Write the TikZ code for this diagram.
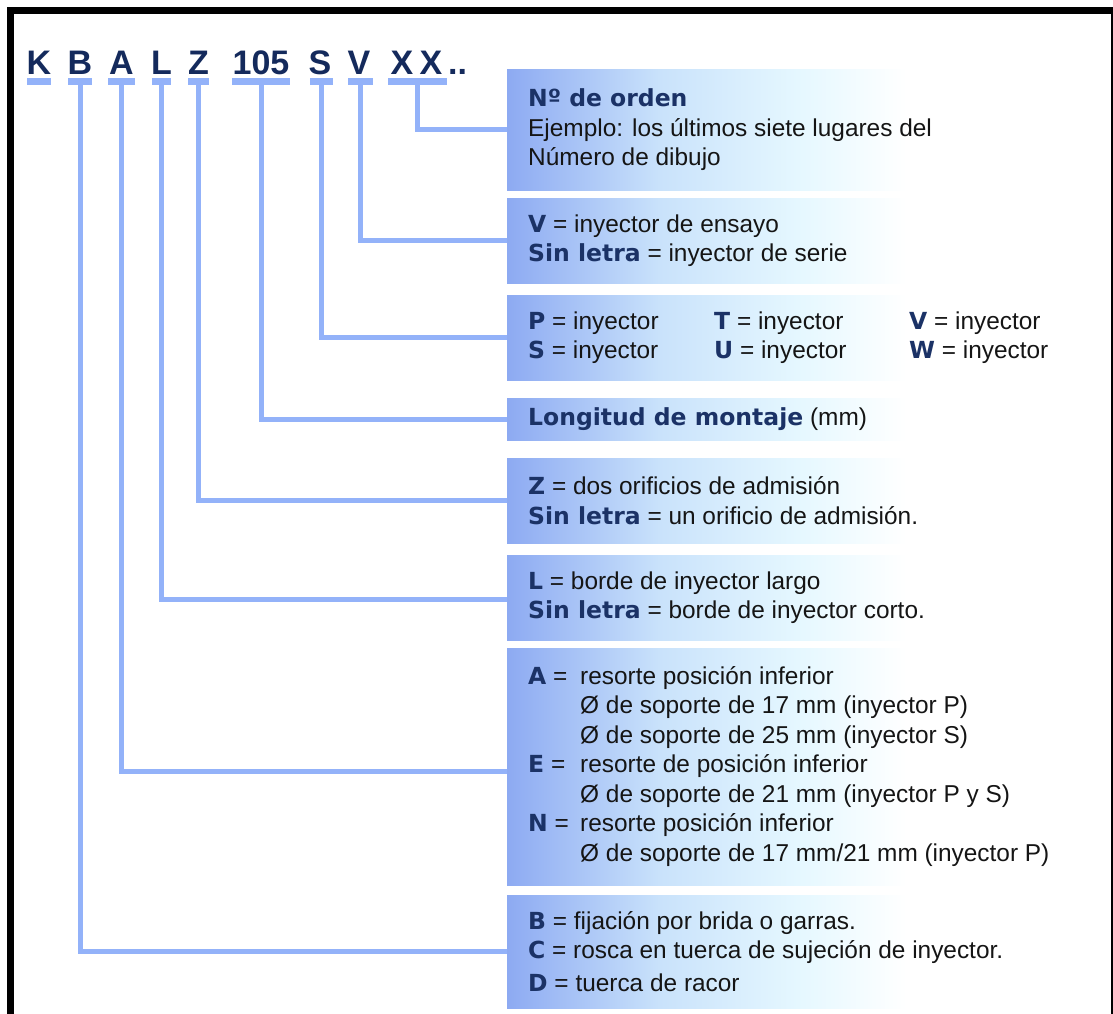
\documentclass[tikz,border=0pt]{standalone}
\usepackage{fontspec}
\setmainfont{Liberation Sans}
\newfontfamily\heavyfont{DejaVu Sans}
\usetikzlibrary{calc}

\definecolor{navy}{HTML}{1B3266}
\definecolor{titlenavy}{HTML}{142A5C}
\definecolor{linkblue}{HTML}{93B2F9}
\definecolor{fadeA}{HTML}{8DAAF2}
\definecolor{fadeB}{HTML}{C9E2FB}
\definecolor{fadeC}{HTML}{E6F8FF}
\definecolor{bodytext}{HTML}{151515}

% blue-to-white fade used behind every legend box
\pgfdeclarehorizontalshading{boxfade}{100bp}{color(0bp)=(fadeA); color(25bp)=(fadeA); color(44bp)=(fadeB); color(62bp)=(fadeC); color(75bp)=(white); color(100bp)=(white)}

% heavy keyword inside the legend text
\newcommand{\kw}[1]{{\heavyfont\bfseries\fontsize{23.5}{29.5}\selectfont\color{navy}#1}}

\tikzset{
  codebox/.style={shade, shading=boxfade, anchor=north west, minimum width=400pt,
                  inner sep=0pt, outer sep=0pt},
  desc/.style={anchor=west, align=left, inner sep=0pt, text=bodytext,
               font=\fontsize{24.4}{29.5}\selectfont},
  codechar/.style={anchor=base, inner sep=0pt, text=titlenavy,
                   font=\fontsize{34}{34}\selectfont\bfseries},
  ubar/.style={fill=linkblue, inner sep=0pt, outer sep=0pt, minimum height=7pt, anchor=north},
  link/.style={draw=linkblue, line width=5pt}
}

\begin{document}
\begin{tikzpicture}[x=1pt, y=-1pt]
\useasboundingbox (0,0) rectangle (1113,1014);
\fill[white] (0,0) rectangle (1113,1014);

% outer frame
\draw[line width=7pt] (10.5,1040) -- (10.5,10.5) -- (1114.2,10.5) -- (1114.2,1040);

% type code characters
\node[codechar] (tK)   at (39,75)  {K};
\node[codechar] (tB)   at (80,75)  {B};
\node[codechar] (tA)   at (121.5,75) {A};
\node[codechar] (tL)   at (161.5,75) {L};
\node[codechar] (tZ)   at (198.5,75) {Z};
\node[codechar] (t105) at (261,75) {105};
\node[codechar] (tS)   at (320,75) {S};
\node[codechar] (tV)   at (359,75) {V};
\node[codechar] (tX1)  at (402,75) {X};
\node[codechar] (tX2)  at (431,75) {X};
\node[codechar, anchor=base west] (tdots) at (448,75) {..};

% underline bars
\node[ubar, minimum width=24pt] (uK)   at (39,78)    {};
\node[ubar, minimum width=24pt] (uB)   at (80,78)    {};
\node[ubar, minimum width=27pt] (uA)   at (121.5,78) {};
\node[ubar, minimum width=19pt] (uL)   at (161.5,78) {};
\node[ubar, minimum width=21pt] (uZ)   at (198.5,78) {};
\node[ubar, minimum width=58pt] (u105) at (261,78)   {};
\node[ubar, minimum width=23pt] (uS)   at (321.5,78) {};
\node[ubar, minimum width=25pt] (uV)   at (360.5,78) {};
\node[ubar, minimum width=59pt] (uX)   at (417.5,78) {};

% legend boxes
\node[codebox, minimum height=120pt] (bX)   at (507,70)  {};
\node[codebox, minimum height=85pt]  (bV)   at (507,198) {};
\node[codebox, minimum height=85pt]  (bS)   at (507,295) {};
\node[codebox, minimum height=42pt]  (b105) at (507,398) {};
\node[codebox, minimum height=85pt]  (bZ)   at (507,458) {};
\node[codebox, minimum height=85pt]  (bL)   at (507,555) {};
\node[codebox, minimum height=237pt] (bA)   at (507,648) {};
\node[codebox, minimum height=113pt] (bB)   at (507,895) {};

% connectors
\draw[link] (uX.center)   |- (bX.west);
\draw[link] (uV.center)   |- (bV.west);
\draw[link] (uS.center)   |- (bS.west);
\draw[link] (u105.center) |- (b105.west);
\draw[link] (uZ.center)   |- (bZ.west);
\draw[link] (uL.center)   |- ([yshift=-2pt]bL.west);
\draw[link] (uA.center)   |- ([yshift=-5pt]bA.west);
\draw[link] (uB.center)   |- (bB.west);

% legend texts
\node[desc] (dX) at ([xshift=21pt]bX.west)
  {\kw{Nº de orden}\\
   Ejemplo: los últimos siete lugares del\\
   Número de dibujo};

\node[desc] (dV) at ([xshift=21pt]bV.west)
  {\kw{V} = inyector de ensayo\\
   \kw{Sin letra} = inyector de serie};

\node[desc] (dS) at ([xshift=21pt]bS.west)
  {\makebox[186pt][l]{\kw{P} = inyector}\makebox[195pt][l]{\kw{T} = inyector}\kw{V} = inyector\\
   \makebox[186pt][l]{\kw{S} = inyector}\makebox[195pt][l]{\kw{U} = inyector}\kw{W} = inyector};

\node[desc] (d105) at ([xshift=21pt]b105.west)
  {\kw{Longitud de montaje} (mm)};

\node[desc] (dZ) at ([xshift=21pt]bZ.west)
  {\kw{Z} = dos orificios de admisión\\
   \kw{Sin letra} = un orificio de admisión.};

\node[desc] (dL) at ([xshift=21pt]bL.west)
  {\kw{L} = borde de inyector largo\\
   \kw{Sin letra} = borde de inyector corto.};

\node[desc] (dA) at ([xshift=21pt]bA.west)
  {\makebox[52pt][l]{\kw{A} =}resorte posición inferior\\
   \hspace*{52pt}Ø de soporte de 17 mm (inyector P)\\
   \hspace*{52pt}Ø de soporte de 25 mm (inyector S)\\
   \makebox[52pt][l]{\kw{E} =}resorte de posición inferior\\
   \hspace*{52pt}Ø de soporte de 21 mm (inyector P y S)\\
   \makebox[52pt][l]{\kw{N} =}resorte posición inferior\\
   \hspace*{52pt}Ø de soporte de 17 mm/21 mm (inyector P)};

\node[desc] (dB) at ([xshift=21pt]bB.west)
  {\kw{B} = fijación por brida o garras.\\
   \kw{C} = rosca en tuerca de sujeción de inyector.\\[3.5pt]
   \kw{D} = tuerca de racor};
\end{tikzpicture}
\end{document}
